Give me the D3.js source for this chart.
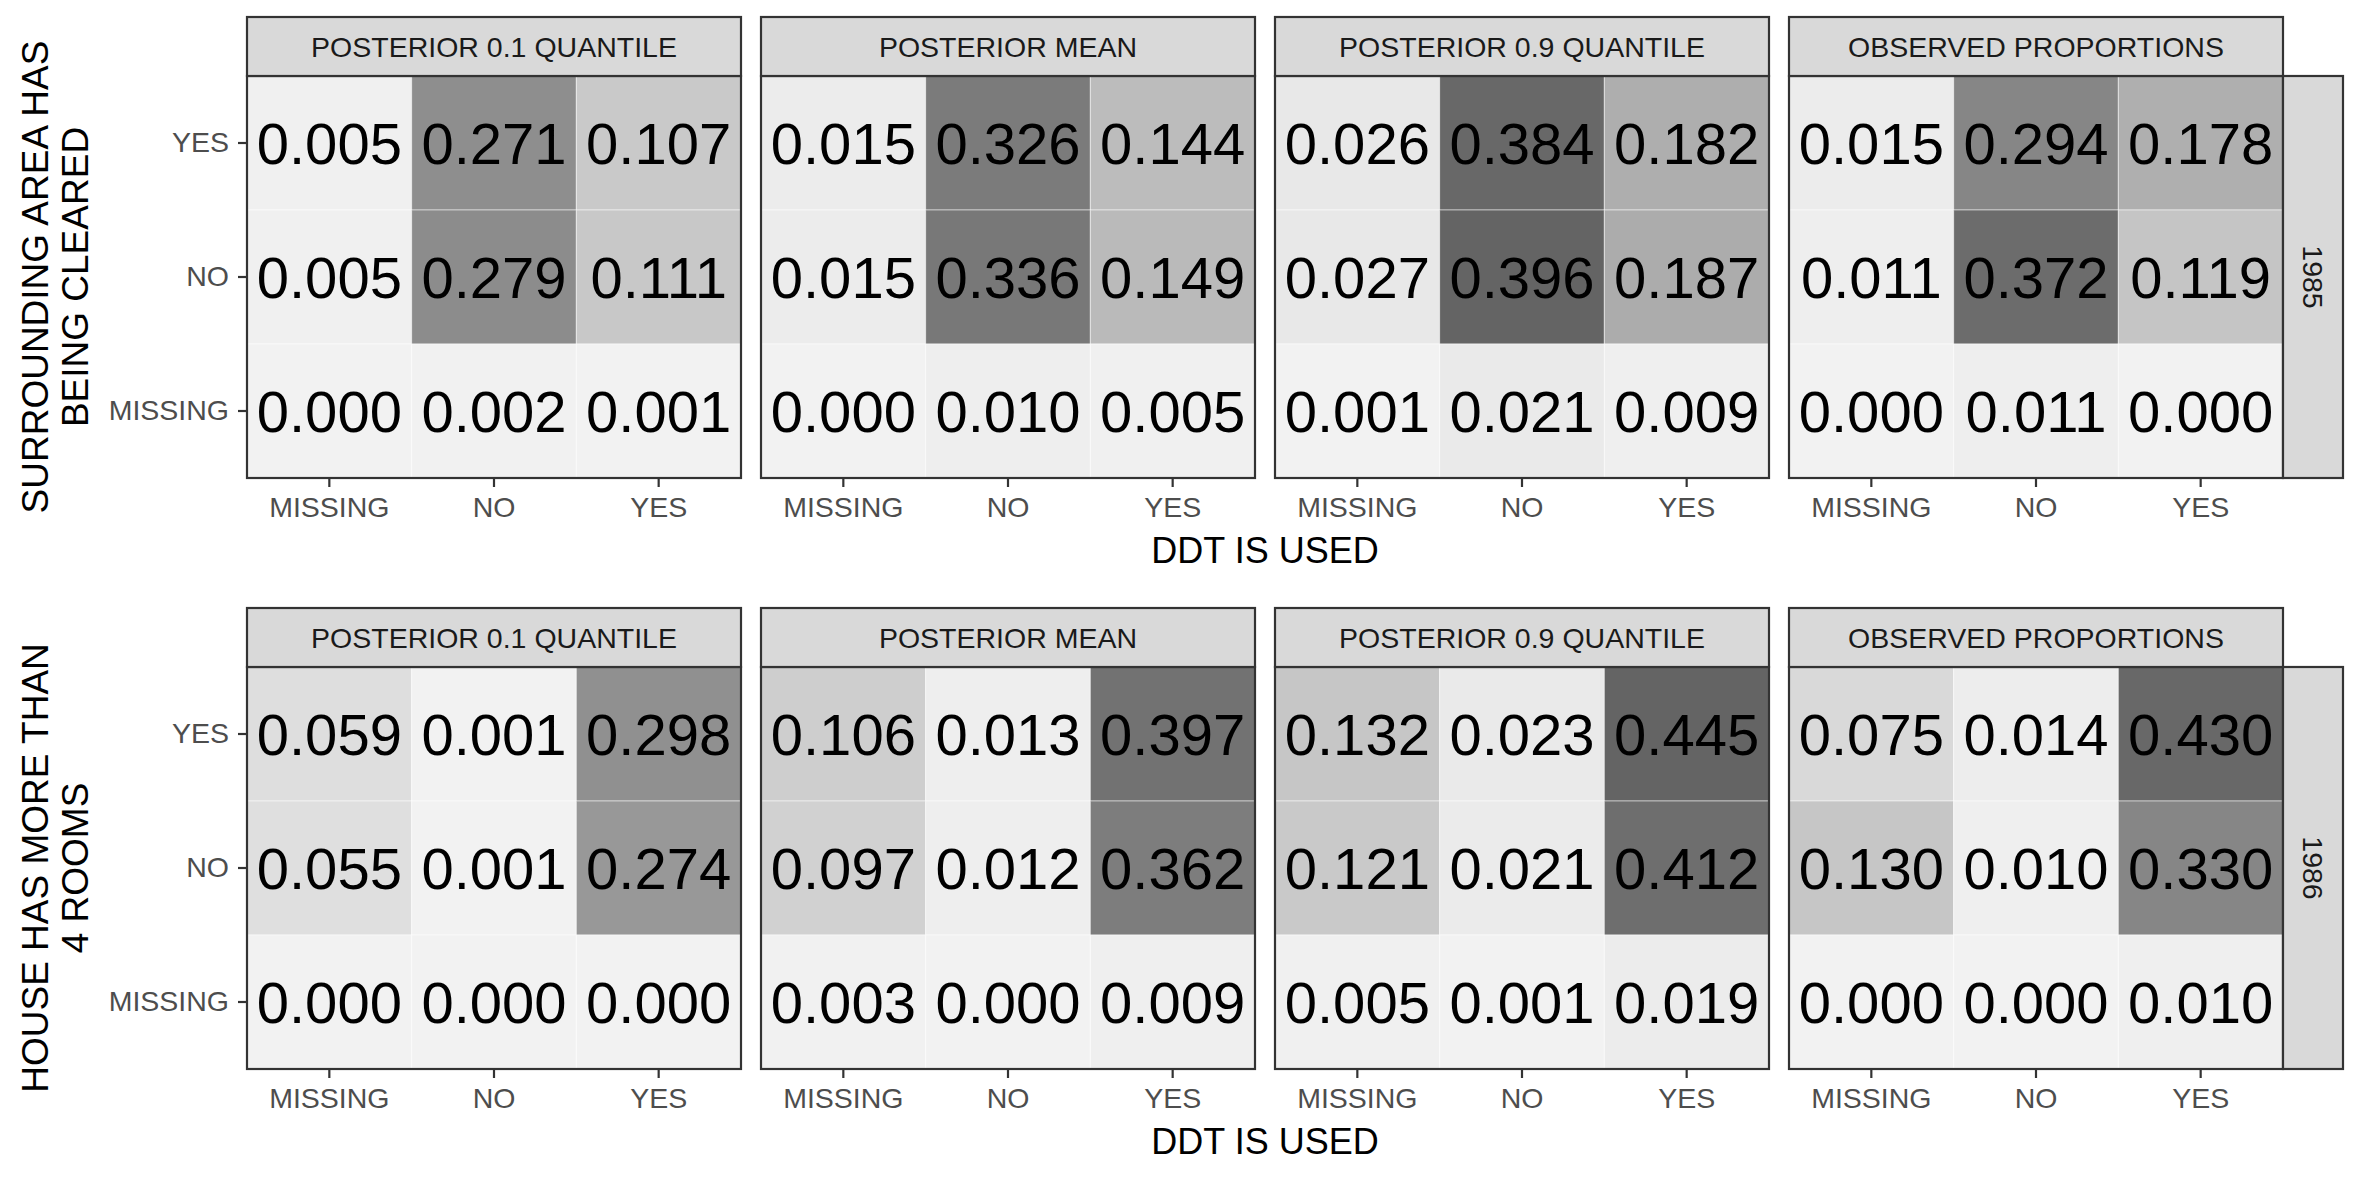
<!DOCTYPE html>
<html>
<head>
<meta charset="utf-8">
<script src="https://cdn.jsdelivr.net/npm/d3@7"></script>
<style>
  html, body { margin: 0; padding: 0; background: #ffffff; }
  svg { display: block; font-family: "Liberation Sans", Arial, Helvetica, sans-serif; }
</style>
</head>
<body>
<svg id="chart" width="2361" height="1180"></svg>
<script>
// ---------------- data ----------------
const panels = ["POSTERIOR 0.1 QUANTILE", "POSTERIOR MEAN", "POSTERIOR 0.9 QUANTILE", "OBSERVED PROPORTIONS"];
const ddtLevels = ["MISSING", "NO", "YES"];        // x axis categories
const rowLevels = ["YES", "NO", "MISSING"];        // y axis categories, top to bottom
const years = ["1985", "1986"];
const xTitle = "DDT IS USED";
const yTitles = [["SURROUNDING AREA HAS", "BEING CLEARED"], ["HOUSE HAS MORE THAN", "4 ROOMS"]];

// values: rows YES, NO, MISSING ; columns MISSING, NO, YES
const q10_1985  = [[0.005, 0.271, 0.107], [0.005, 0.279, 0.111], [0.000, 0.002, 0.001]];
const mean_1985 = [[0.015, 0.326, 0.144], [0.015, 0.336, 0.149], [0.000, 0.010, 0.005]];
const q90_1985  = [[0.026, 0.384, 0.182], [0.027, 0.396, 0.187], [0.001, 0.021, 0.009]];
const obs_1985  = [[0.015, 0.294, 0.178], [0.011, 0.372, 0.119], [0.000, 0.011, 0.000]];

const q10_1986  = [[0.059, 0.001, 0.298], [0.055, 0.001, 0.274], [0.000, 0.000, 0.000]];
const mean_1986 = [[0.106, 0.013, 0.397], [0.097, 0.012, 0.362], [0.003, 0.000, 0.009]];
const q90_1986  = [[0.132, 0.023, 0.445], [0.121, 0.021, 0.412], [0.005, 0.001, 0.019]];
const obs_1986  = [[0.075, 0.014, 0.430], [0.130, 0.010, 0.330], [0.000, 0.000, 0.010]];

const rowsData = [
  [q10_1985, mean_1985, q90_1985, obs_1985],
  [q10_1986, mean_1986, q90_1986, obs_1986]
];

// ---------------- layout ----------------
const svg = d3.select("#chart");
const panelX0 = 247, panelW = 494, panelGap = 20;
const stripH = 59, panelH = 402, rightStripW = 60;
const rowTops = [17, 608];
const border = "#333333";
const smallFont = 28.5, titleFont = 36, cellFont = 58;

rowsData.forEach((rowPanels, r) => {
  const top = rowTops[r];
  const pTop = top + stripH;
  const all = rowPanels.flat(2);
  const color = d3.scaleLinear()
    .domain([0, d3.max(all)])
    .range(["#f2f2f2", "#646464"])
    .interpolate(d3.interpolateLab);

  rowPanels.forEach((mat, p) => {
    const px = panelX0 + p * (panelW + panelGap);
    const x = d3.scaleBand().domain(ddtLevels).range([px, px + panelW]).padding(0);
    const y = d3.scaleBand().domain(rowLevels).range([pTop, pTop + panelH]).padding(0);

    const g = svg.append("g");
    const cells = [];
    mat.forEach((rowVals, i) => rowVals.forEach((v, j) => cells.push({ r: rowLevels[i], c: ddtLevels[j], v })));

    g.selectAll("rect.tile").data(cells).join("rect")
      .attr("class", "tile")
      .attr("x", d => x(d.c)).attr("y", d => y(d.r))
      .attr("width", x.bandwidth()).attr("height", y.bandwidth())
      .attr("fill", d => color(d.v))
      .attr("stroke", "#ffffff").attr("stroke-opacity", 0.5).attr("stroke-width", 1);

    g.selectAll("text.val").data(cells).join("text")
      .attr("class", "val")
      .attr("x", d => x(d.c) + x.bandwidth() / 2)
      .attr("y", d => y(d.r) + y.bandwidth() / 2)
      .attr("dy", "0.36em")
      .attr("text-anchor", "middle")
      .attr("font-size", cellFont)
      .attr("fill", "#000000")
      .text(d => d3.format(".3f")(d.v));

    // panel border
    g.append("rect")
      .attr("x", px).attr("y", pTop).attr("width", panelW).attr("height", panelH)
      .attr("fill", "none").attr("stroke", border).attr("stroke-width", 2.2);

    // top strip
    g.append("rect")
      .attr("x", px).attr("y", top).attr("width", panelW).attr("height", stripH)
      .attr("fill", "#d9d9d9").attr("stroke", border).attr("stroke-width", 2.2);
    g.append("text")
      .attr("x", px + panelW / 2).attr("y", top + stripH / 2)
      .attr("dy", "0.36em").attr("text-anchor", "middle")
      .attr("font-size", smallFont).attr("fill", "#1a1a1a")
      .text(panels[p]);

    // x axis
    const xAxis = d3.axisBottom(x).tickSize(9).tickPadding(10);
    const ax = g.append("g").attr("transform", `translate(0,${pTop + panelH})`).call(xAxis);
    ax.select(".domain").remove();
    ax.selectAll(".tick line").attr("stroke", border).attr("stroke-width", 2.2);
    ax.selectAll(".tick text").attr("font-size", smallFont).attr("fill", "#4d4d4d")
      .attr("font-family", "Liberation Sans, Arial, sans-serif");

    if (p === 0) {
      const yAxis = d3.axisLeft(y).tickSize(9).tickPadding(9);
      const ay = g.append("g").attr("transform", `translate(${px},0)`).call(yAxis);
      ay.select(".domain").remove();
      ay.selectAll(".tick line").attr("stroke", border).attr("stroke-width", 2.2);
      ay.selectAll(".tick text").attr("font-size", smallFont).attr("fill", "#4d4d4d")
        .attr("font-family", "Liberation Sans, Arial, sans-serif");
    }
  });

  // right strip
  const rsx = panelX0 + 4 * panelW + 3 * panelGap;
  svg.append("rect")
    .attr("x", rsx).attr("y", pTop).attr("width", rightStripW).attr("height", panelH)
    .attr("fill", "#d9d9d9").attr("stroke", border).attr("stroke-width", 2.2);
  svg.append("text")
    .attr("transform", `translate(${rsx + rightStripW / 2},${pTop + panelH / 2}) rotate(90)`)
    .attr("dy", "0.36em").attr("text-anchor", "middle")
    .attr("font-size", smallFont).attr("fill", "#1a1a1a")
    .text(years[r]);

  // x title
  const plotLeft = panelX0, plotRight = panelX0 + 4 * panelW + 3 * panelGap;
  svg.append("text")
    .attr("x", (plotLeft + plotRight) / 2)
    .attr("y", pTop + panelH + 85)
    .attr("text-anchor", "middle")
    .attr("font-size", titleFont).attr("fill", "#000000")
    .text(xTitle);

  // y title (two lines)
  const yc = pTop + panelH / 2;
  yTitles[r].forEach((line, k) => {
    svg.append("text")
      .attr("transform", `translate(${48 + k * 40},${yc}) rotate(-90)`)
      .attr("text-anchor", "middle")
      .attr("font-size", titleFont + 1).attr("fill", "#000000")
      .text(line);
  });
});
</script>
</body>
</html>
